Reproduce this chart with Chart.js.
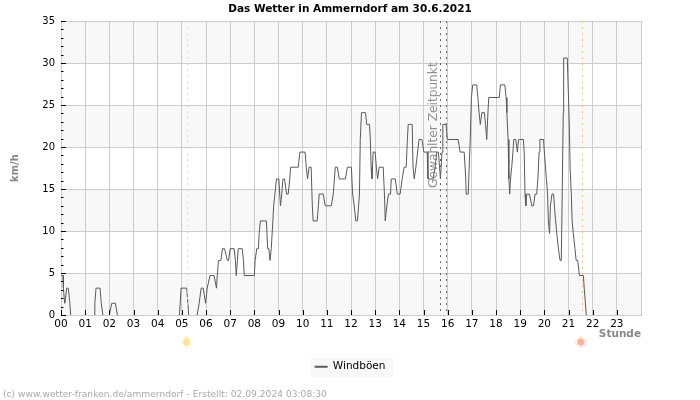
<!DOCTYPE html>
<html><head><meta charset="utf-8">
<style>html,body{margin:0;padding:0;background:#fff}canvas{display:block}</style>
<script src="https://cdn.jsdelivr.net/npm/chart.js@4"></script>
</head><body><canvas id="c" width="700" height="400"></canvas>
<script>
const chartTitle = "Das Wetter in Ammerndorf am 30.6.2021";
const seriesName = "Windböen";
const footerText = "(c) www.wetter-franken.de/ammerndorf - Erstellt: 02.09.2024 03:08:30";
const selectedLabel = "Gewählter Zeitpunkt";
const yMax = 35, yStep = 5;
const xMaxMinutes = 1440, hourMinutes = 60;
const sunriseMinute = 314, sunsetMinute = 1293;
const selectedMinutes = [942, 957];
const bands = [[0,5],[10,15],[20,25],[30,35]];
const windMinutes = [1,5,6,9,10,14,18,22,24,83,84,87,97,100,104,120,126,135,140,294,296,298,312,315,317,338,343,348,353,359,363,370,380,386,388,391,397,401,406,413,416,420,430,433,435,438,440,450,453,455,480,482,486,490,492,495,510,513,516,519,522,526,528,531,535,541,543,545,548,551,555,560,564,568,570,589,593,606,609,612,616,621,624,626,636,639,641,651,656,671,676,681,686,691,706,711,721,724,728,732,736,741,743,746,756,759,766,768,770,772,775,780,783,786,790,800,803,805,809,813,818,820,830,835,842,847,852,857,860,862,872,874,877,881,889,896,901,909,911,924,929,933,937,942,946,948,956,959,986,991,1001,1005,1006,1011,1016,1019,1022,1032,1035,1038,1041,1045,1051,1054,1057,1060,1062,1088,1091,1102,1105,1107,1110,1112,1114,1116,1119,1122,1124,1129,1133,1136,1139,1148,1150,1152,1154,1156,1163,1169,1173,1177,1181,1184,1187,1189,1198,1200,1203,1205,1208,1210,1213,1215,1219,1223,1225,1228,1231,1235,1239,1242,1244,1247,1248,1257,1259,1262,1264,1267,1269,1272,1276,1279,1283,1287,1297,1299,1302,1304];
const windValues = [4.7,4.7,3.2,1.4,1.4,3.2,3.2,1.4,0,0,1.4,3.2,3.2,1.4,0,0,1.4,1.4,0,0,1.4,3.2,3.2,1.4,0,0,1.4,3.2,3.2,1.4,3.2,4.7,4.7,3.2,4.7,6.5,6.5,7.9,7.9,6.5,6.5,7.9,7.9,6.5,4.7,6.5,7.9,7.9,6.5,4.7,4.7,6.5,7.9,7.9,9.7,11.2,11.2,7.9,7.9,6.5,7.9,11.2,13,14.4,16.2,16.2,14.4,13,14.4,16.2,16.2,14.4,14.4,16.2,17.6,17.6,19.4,19.4,17.6,16.2,17.6,17.6,13,11.2,11.2,13,14.4,14.4,13,13,14.4,17.6,17.6,16.2,16.2,17.6,17.6,14.4,13,11.2,11.2,14.4,20.9,24.1,24.1,22.7,22.7,20.9,17.6,16.2,19.4,19.4,17.6,16.2,17.6,17.6,14.4,11.2,13,14.4,14.4,16.2,16.2,14.4,14.4,16.2,17.6,17.6,20.9,22.7,22.7,17.6,16.2,17.6,20.9,20.9,19.4,19.4,16.2,16.2,17.6,19.4,19.4,16.2,19.4,22.7,22.7,20.9,20.9,19.4,19.4,16.2,14.4,14.4,20.9,25.9,27.4,27.4,25.9,24.1,22.7,24.1,24.1,22.7,20.9,24.1,25.9,25.9,27.4,27.4,25.9,24.1,20.9,16.2,14.4,16.2,17.6,19.4,20.9,20.9,19.4,20.9,20.9,20.9,19.4,14.4,13,14.4,14.4,13,13,14.4,14.4,16.2,19.4,20.9,20.9,19.4,17.6,16.2,14.4,11.2,9.7,13,14.4,14.4,13,11.2,9.7,7.9,6.5,6.5,13,24.1,30.6,30.6,27.4,22.7,17.6,14.4,11.2,9.7,7.9,6.5,6.5,4.7,4.7,3.2,1.4,0];
const windPoints = windMinutes.map((m,i)=>({x:m,y:windValues[i]}));

function sun(ctx,x,y,core,ray){
  ctx.save();ctx.strokeStyle=ray;ctx.lineWidth=1;
  for(let i=0;i<12;i++){const a=i*Math.PI/6;ctx.beginPath();ctx.moveTo(x+Math.cos(a)*3,y+Math.sin(a)*3);ctx.lineTo(x+Math.cos(a)*(i%3?5:6),y+Math.sin(a)*(i%3?5:6));ctx.stroke();}
  ctx.fillStyle=core;ctx.beginPath();ctx.arc(x,y,3.2,0,Math.PI*2);ctx.fill();ctx.restore();
}
const decor = {
  id:'decor',
  beforeDraw(chart){
    const {ctx,chartArea:a,scales:{y},legend}=chart;
    ctx.save();ctx.fillStyle='#f8f8f8';
    bands.forEach(([lo,hi])=>{const t=y.getPixelForValue(hi),b=y.getPixelForValue(lo);ctx.fillRect(a.left,t,a.right-a.left,b-t);});
    const h=legend&&legend.legendHitBoxes&&legend.legendHitBoxes[0];
    if(h){const cy=h.top+h.height/2;ctx.fillRect(h.left-4,Math.round(cy)-9,h.width+12,19);}
    ctx.restore();
  },
  afterDatasetsDraw(chart){
    const {ctx,chartArea:a,scales:{x,y}}=chart;
    ctx.save();ctx.lineWidth=1;
    const vline=(m,c,d)=>{const p=Math.round(x.getPixelForValue(m))+.5;ctx.strokeStyle=c;ctx.setLineDash(d);ctx.beginPath();ctx.moveTo(p,a.top);ctx.lineTo(p,a.bottom);ctx.stroke();};
    vline(sunriseMinute,'#eee67a',[2,4]);
    vline(sunsetMinute,'#f0c080',[2,4]);
    selectedMinutes.forEach(m=>vline(m,'#666666',[2,4]));
    ctx.setLineDash([]);ctx.strokeStyle='#000';
    for(let v=0;v<=yMax;v++){const p=Math.round(y.getPixelForValue(v))+.5;ctx.beginPath();ctx.moveTo(a.left,p);ctx.lineTo(a.left+(v%yStep===0?5:2.5),p);ctx.stroke();}
    for(let m=0;m<xMaxMinutes;m+=hourMinutes){const p=Math.round(x.getPixelForValue(m))+.5;ctx.beginPath();ctx.moveTo(p,a.bottom);ctx.lineTo(p,a.bottom-5);ctx.stroke();}
    const sx=Math.round(x.getPixelForValue(selectedMinutes[0]));
    ctx.translate(sx-3,a.bottom-127);ctx.rotate(-Math.PI/2);
    ctx.font='12.2px "DejaVu Sans"';ctx.fillStyle='rgba(120,120,120,0.8)';ctx.textAlign='left';ctx.textBaseline='alphabetic';
    ctx.fillText(selectedLabel,0,0);
    ctx.restore();
    sun(ctx,x.getPixelForValue(sunriseMinute)-1,a.bottom+27,'#fde39a','#fde9a8');
    sun(ctx,x.getPixelForValue(sunsetMinute)-1,a.bottom+27,'#fbb19c','#fbc8b8');
    ctx.save();ctx.font='9.15px "DejaVu Sans"';ctx.fillStyle='#aaaaaa';ctx.textBaseline='alphabetic';ctx.fillText(footerText,3,397);ctx.restore();
  }
};
new Chart(document.getElementById('c'),{
  type:'line',
  data:{datasets:[{label:seriesName,data:windPoints,borderColor:'#5a5a5a',borderWidth:1,pointRadius:0,tension:0,fill:false,
    segment:{borderColor:c=>(c.p0.parsed.y===0&&c.p1.parsed.y===0)?'transparent':undefined}}]},
  plugins:[decor],
  options:{
    responsive:false,animation:false,devicePixelRatio:1,
    layout:{padding:{left:0,right:0,top:0,bottom:18}},
    plugins:{
      title:{display:true,text:chartTitle,color:'#000',font:{family:'DejaVu Sans',size:10.5,weight:'bold'},padding:{top:3,bottom:5.5}},
      tooltip:{enabled:false},
      legend:{display:true,position:'bottom',labels:{usePointStyle:true,pointStyle:'line',pointStyleWidth:13,color:'#000',font:{family:'DejaVu Sans',size:10.5},padding:5,
        generateLabels(ch){return Chart.defaults.plugins.legend.labels.generateLabels(ch).map(l=>({...l,lineWidth:2}));}}}
    },
    scales:{
      x:{type:'linear',min:0,max:xMaxMinutes,
        grid:{color:'#cccccc',lineWidth:1,drawTicks:false},border:{color:'#cccccc'},
        afterBuildTicks(s){s.ticks=[];for(let m=0;m<=xMaxMinutes;m+=hourMinutes)s.ticks.push({value:m});},
        ticks:{autoSkip:false,maxRotation:0,color:'#000',padding:3,font:{family:'DejaVu Sans',size:10.5},callback:v=>v<xMaxMinutes?String(v/hourMinutes).padStart(2,'0'):''},
        title:{display:true,text:'Stunde',align:'end',color:'#888888',font:{family:'DejaVu Sans',size:10.5,weight:'bold'},padding:{top:1,bottom:16}},
        afterFit(s){s.height=41.5;}},
      y:{min:0,max:yMax,
        grid:{color:'#cccccc',lineWidth:1,drawTicks:false},border:{color:'#cccccc'},
        ticks:{stepSize:yStep,color:'#000',padding:6,font:{family:'DejaVu Sans',size:10}},
        title:{display:true,text:'km/h',color:'#888888',font:{family:'DejaVu Sans',size:10,weight:'bold'},padding:{top:9,bottom:0}},
        afterFit(s){s.width=61;}},
      spacer:{type:'linear',position:'right',display:true,min:0,max:1,
        grid:{display:false},border:{display:false},ticks:{display:false},
        afterFit(s){s.width=59;}}
    }
  }
});
</script></body></html>
